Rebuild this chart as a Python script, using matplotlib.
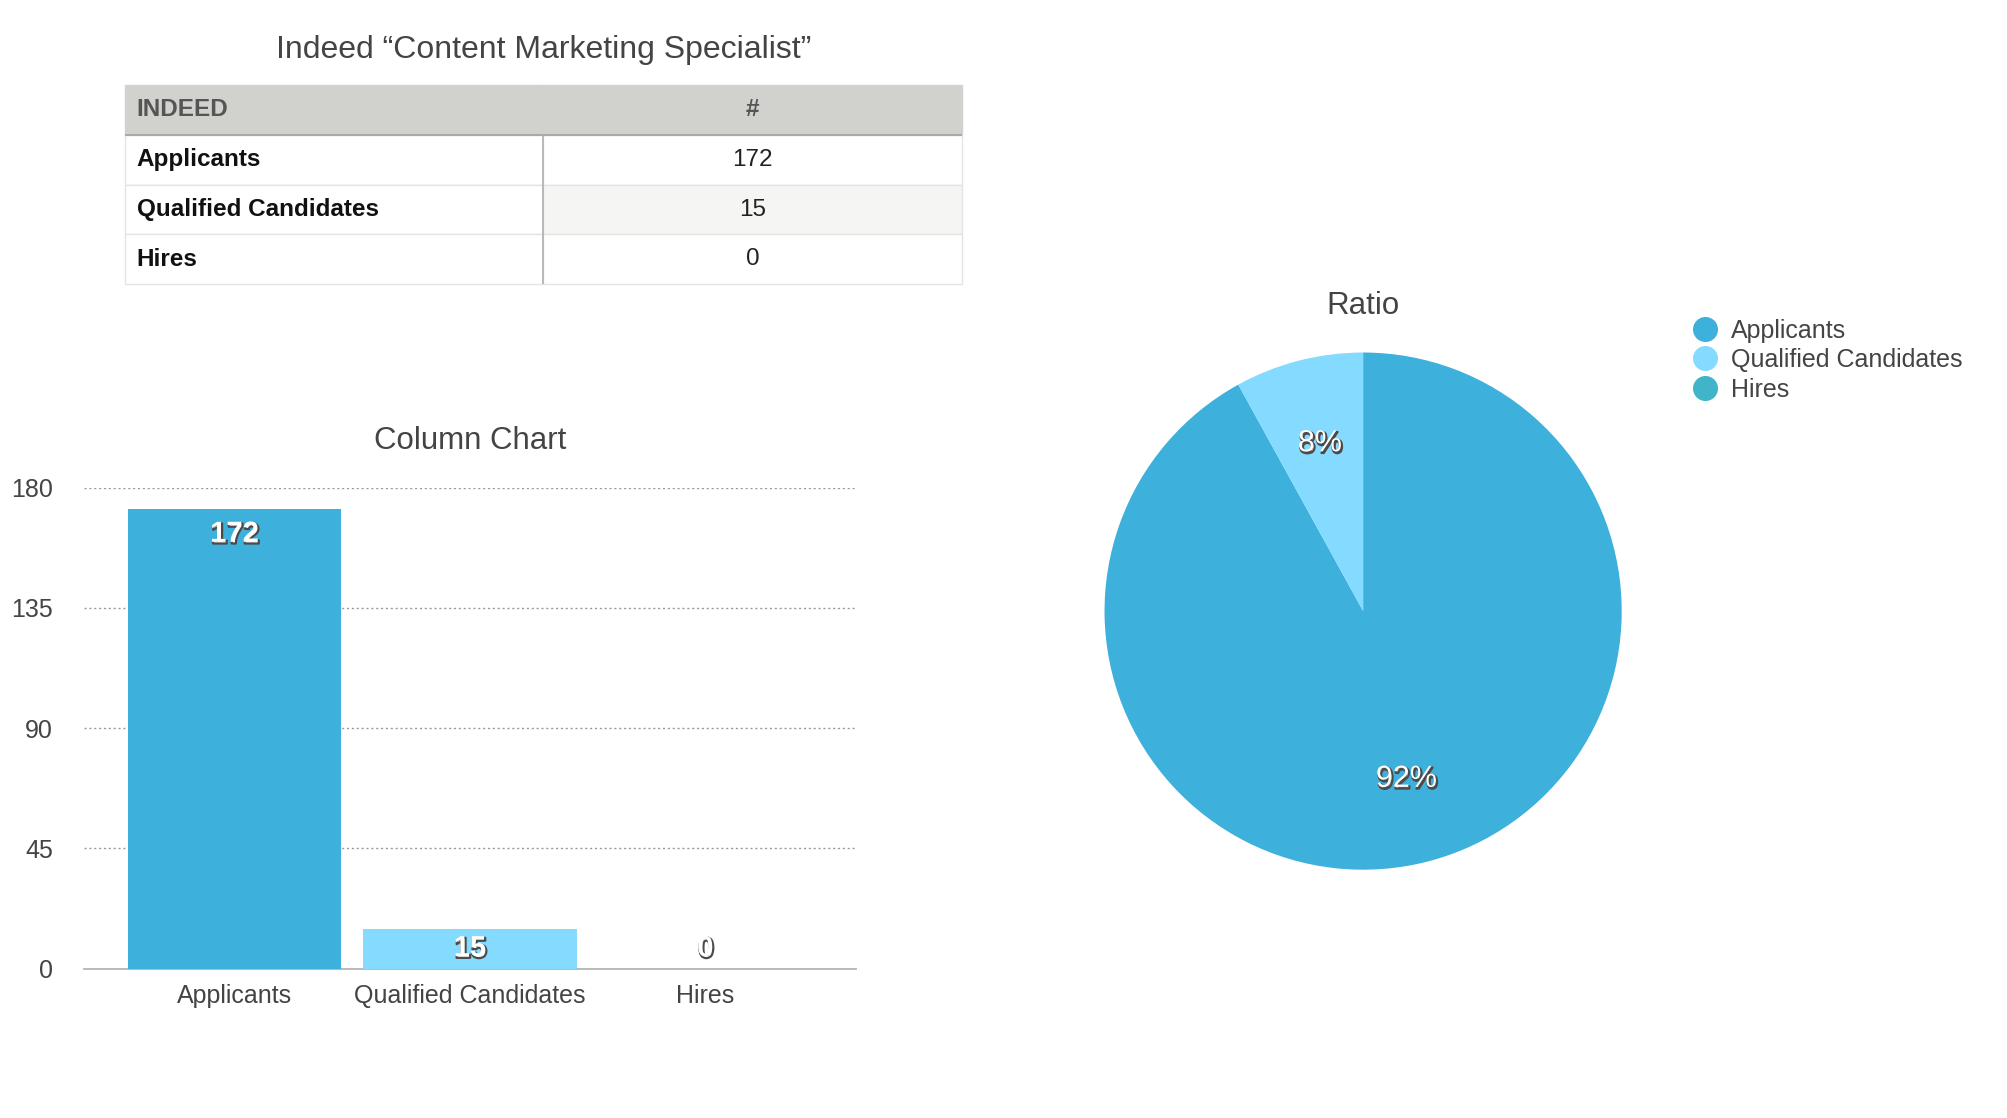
import matplotlib
matplotlib.use('Agg')
import matplotlib.pyplot as plt
import matplotlib.patheffects as pe
from matplotlib.lines import Line2D

plt.rcParams['font.family'] = ['Liberation Sans', 'DejaVu Sans']

categories = ['Applicants', 'Qualified Candidates', 'Hires']
counts = [172, 15, 0]
colors = ['#3db0dc', '#84daff', '#40b4c8']
table_header = ['INDEED', '#']
y_ticks = [0, 45, 90, 135, 180]

# layout measured on a 1560 x 869 grid, converted to figure fractions
W, H = 1560.0, 869.0


def fx(x):
    return x / W


def fy(y):
    return 1 - y / H


fig = plt.figure(figsize=(20.08, 11.18), dpi=100)
fig.patch.set_facecolor('white')

shadow = [pe.Stroke(linewidth=1.6, foreground='#4a4a4a', offset=(0.8, -1.2)), pe.Normal()]

# ---------------- table ----------------
fig.text(fx(422), fy(39), 'Indeed \u201cContent Marketing Specialist\u201d',
         ha='center', va='center', fontsize=23, color='#444444')

ax_t = fig.add_axes([fx(97), fy(221), fx(650), 155 / H])
ax_t.axis('off')
cell_text = [[c, str(v)] for c, v in zip(categories, counts)]
tbl = ax_t.table(cellText=cell_text, colLabels=table_header, bbox=[0, 0, 1, 1])
tbl.auto_set_font_size(False)
tbl.set_fontsize(17.5)
for (r, c), cell in tbl.get_celld().items():
    cell.set_edgecolor('#e4e4e4')
    cell.set_linewidth(1)
    if r == 0:
        cell.set_facecolor('#d1d1cd')
        cell.set_edgecolor('#d1d1cd')
        cell.set_text_props(weight='bold', color='#555555')
    elif r == 2 and c == 1:
        cell.set_facecolor('#f5f5f3')
    else:
        cell.set_facecolor('white')
    if c == 0:
        cell.PAD = 0.028
        cell.set_text_props(ha='left')
        if r > 0:
            cell.set_text_props(weight='bold', color='#111111')
    else:
        cell.set_text_props(ha='center')
        if r > 0:
            cell.set_text_props(color='#222222')
ax_t.plot([0, 1], [0.75, 0.75], color='#a9a9a9', lw=1.5, transform=ax_t.transAxes, zorder=5)
ax_t.plot([0.5, 0.5], [0, 0.75], color='#b0b0b0', lw=1.2, transform=ax_t.transAxes, zorder=5)

# ---------------- column chart ----------------
fig.text(fx(365), fy(343), 'Column Chart', ha='center', va='center',
         fontsize=22.5, color='#444444')

ax_b = fig.add_axes([fx(65), fy(753), fx(600), 374 / H])
xs = list(range(len(categories)))
ax_b.bar(xs, counts, width=0.907, color=colors, zorder=3)
ax_b.set_xlim(-0.64, 2.64)
ax_b.set_ylim(0, 180)
ax_b.set_yticks(y_ticks)
ax_b.set_xticks(xs)
ax_b.set_xticklabels(categories)
ax_b.tick_params(axis='both', length=0, labelsize=18, colors='#444444')
ax_b.tick_params(axis='y', pad=22)
ax_b.tick_params(axis='x', pad=11)
for s in ['top', 'left', 'right']:
    ax_b.spines[s].set_visible(False)
ax_b.spines['bottom'].set_color('#b5b5b5')
ax_b.spines['bottom'].set_linewidth(1.3)
ax_b.yaxis.grid(True, linestyle=(0, (1.5, 2)), color='#9a9a9a', linewidth=1)
ax_b.set_axisbelow(True)
for x, v in zip(xs, counts):
    ax_b.text(x, max(v - 9.3, 7.7), str(v), ha='center', va='center',
              fontsize=21, weight='bold', color='white', path_effects=shadow, zorder=4)

# ---------------- pie ----------------
fig.text(fx(1059), fy(238), 'Ratio', ha='center', va='center',
         fontsize=22.5, color='#444444')

ax_p = fig.add_axes([fx(858), fy(676), fx(402), 402 / H])


def pct(p):
    return '%d%%' % round(p) if p > 0.5 else ''


wedges, texts, autotexts = ax_p.pie(counts, colors=colors, startangle=90, counterclock=False,
                                    autopct=pct, pctdistance=0.67,
                                    wedgeprops={'linewidth': 0})
for t in autotexts:
    t.set_fontsize(22)
    t.set_color('white')
    t.set_path_effects(shadow)
ax_p.set_xlim(-1, 1)
ax_p.set_ylim(-1, 1)

handles = [Line2D([], [], marker='o', linestyle='none', markersize=17,
                  markerfacecolor=c, markeredgecolor=c) for c in colors]
fig.legend(handles, categories, loc='upper left', bbox_to_anchor=(fx(1303), fy(238)),
           frameon=False, fontsize=18, labelspacing=0.22, handletextpad=0.45,
           handlelength=1.2, borderpad=0, labelcolor='#444444')

fig.savefig('out.png', dpi=100, facecolor='white')
